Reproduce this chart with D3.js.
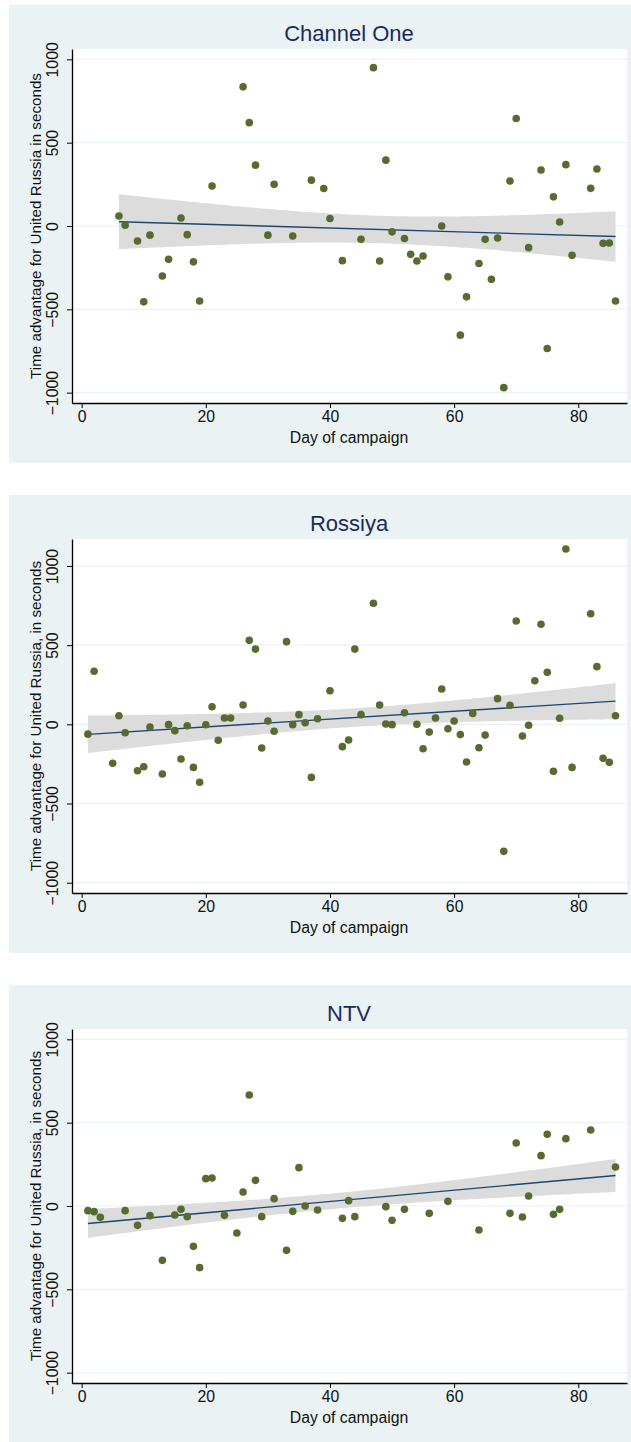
<!DOCTYPE html>
<html>
<head>
<meta charset="utf-8">
<script src="https://cdn.jsdelivr.net/npm/d3@7"></script>
<style>
  body { margin: 0; background: #fff; }
  svg text { font-family: "Liberation Sans", Arial, sans-serif; }
</style>
</head>
<body>
<div id="chart"></div>
<script>
// Data: day of campaign and time advantage (seconds)
const channelOneDays = [6, 7, 9, 10, 11, 13, 14, 16, 17, 18, 19, 21, 26, 27, 28, 30, 31, 34, 37, 39, 40, 42, 45, 47, 48, 49, 50, 52, 53, 54, 55, 58, 59, 61, 62, 64, 65, 66, 67, 68, 69, 70, 72, 74, 75, 76, 77, 78, 79, 82, 83, 84, 85, 86];
const channelOneSecs = [60, 5, -90, -455, -55, -300, -200, 48, -52, -215, -450, 240, 835, 620, 365, -55, 250, -60, 275, 225, 45, -208, -80, 950, -210, 395, -35, -75, -170, -210, -180, 0, -305, -655, -425, -225, -80, -320, -72, -970, 270, 645, -130, 336, -735, 175, 24, 368, -176, 226, 342, -104, -102, -450];

const rossiyaDays = [1, 2, 5, 6, 7, 9, 10, 11, 13, 14, 15, 16, 17, 18, 19, 20, 21, 22, 23, 24, 26, 27, 28, 29, 30, 31, 33, 34, 35, 36, 37, 38, 40, 42, 43, 44, 45, 47, 48, 49, 50, 52, 54, 55, 56, 57, 58, 59, 60, 61, 62, 63, 64, 65, 67, 68, 69, 70, 71, 72, 73, 74, 75, 76, 77, 78, 79, 82, 83, 84, 85, 86];
const rossiyaSecs = [-62, 335, -246, 54, -53, -293, -268, -17, -314, -2, -40, -219, -9, -272, -366, -3, 111, -101, 40, 40, 122, 530, 475, -150, 21, -44, 522, -2, 61, 10, -335, 35, 212, -141, -99, 475, 61, 764, 122, 2, -2, 73, 0, -154, -49, 40, 223, -28, 21, -65, -238, 69, -148, -68, 162, -802, 120, 652, -74, -6, 275, 632, 328, -297, 38, 1107, -272, 698, 364, -215, -240, 54];

const ntvDays = [1, 2, 3, 7, 9, 11, 13, 15, 16, 17, 18, 19, 20, 21, 23, 25, 26, 27, 28, 29, 31, 33, 34, 35, 36, 38, 42, 43, 44, 49, 50, 52, 56, 59, 64, 69, 70, 71, 72, 74, 75, 76, 77, 78, 82, 86];
const ntvSecs = [-28, -34, -68, -28, -116, -58, -326, -54, -20, -64, -242, -370, 164, 168, -56, -162, 84, 666, 154, -64, 44, -266, -32, 230, 0, -24, -74, 32, -64, -4, -86, -20, -44, 28, -144, -44, 378, -66, 60, 302, 430, -50, -20, 404, 456, 234];

const panelTitles = ["Channel One", "Rossiya", "NTV"];
const yTitles = [
    "Time advantage for United Russia in seconds",
    "Time advantage for United Russia, in seconds",
    "Time advantage for United Russia, in seconds"
];
const xTicks = [0, 20, 40, 60, 80];
const yTicks = [-1000, -500, 0, 500, 1000];

const panels = [
    { days: channelOneDays, secs: channelOneSecs, yDomain: [-1062, 1062] },
    { days: rossiyaDays, secs: rossiyaSecs, yDomain: [-1065, 1170] },
    { days: ntvDays, secs: ntvSecs, yDomain: [-1062, 1062] }
];

const width = 631, height = 1442;
const panelTop = [5, 495, 985];
const panelH = 458;
const plot = { left: 72, right: 627, top: 44, bottom: 398 };

const bgColor = "#eaf2f3";
const dotColor = "#556b2f";
const fitColor = "#1a476f";
const bandColor = "#dcdcdc";
const titleColor = "#1c2b5a";

const svg = d3.select("#chart").append("svg")
    .attr("width", width)
    .attr("height", height);

const xScale = d3.scaleLinear()
    .domain([-1.56, 87.85])
    .range([plot.left, plot.right]);

// OLS fit with a CI of the mean (90% level matches the band widths in the picture)
function linearFit(xs, ys) {
    const n = xs.length;
    const mx = d3.mean(xs), my = d3.mean(ys);
    let sxx = 0, sxy = 0;
    xs.forEach((x, i) => { sxx += (x - mx) ** 2; sxy += (x - mx) * (ys[i] - my); });
    const b = sxy / sxx, a = my - b * mx;
    let sse = 0;
    xs.forEach((x, i) => { sse += (ys[i] - a - b * x) ** 2; });
    const s = Math.sqrt(sse / (n - 2));
    const z = 1.645, df = n - 2;
    const t = z + (z ** 3 + z) / (4 * df);
    return {
        fit: x => a + b * x,
        half: x => t * s * Math.sqrt(1 / n + (x - mx) ** 2 / sxx)
    };
}

panels.forEach((p, k) => {
    const g = svg.append("g").attr("transform", `translate(0, ${panelTop[k]})`);

    g.append("rect")
        .attr("x", 9).attr("y", 0)
        .attr("width", width - 9).attr("height", panelH)
        .attr("fill", bgColor);

    g.append("rect")
        .attr("x", plot.left).attr("y", plot.top)
        .attr("width", plot.right - plot.left).attr("height", plot.bottom - plot.top)
        .attr("fill", "white");

    const yScale = d3.scaleLinear()
        .domain(p.yDomain)
        .range([plot.bottom, plot.top]);

    // gridlines
    g.selectAll(".grid")
        .data(yTicks)
        .enter().append("line")
        .attr("x1", plot.left).attr("x2", plot.right)
        .attr("y1", d => yScale(d)).attr("y2", d => yScale(d))
        .attr("stroke", bgColor)
        .attr("stroke-width", 1.2);

    // confidence band and fit line
    const lf = linearFit(p.days, p.secs);
    const x0 = d3.min(p.days), x1 = d3.max(p.days);
    const xs = d3.range(x0, x1, 0.5).concat([x1]);

    g.append("path")
        .datum(xs)
        .attr("d", d3.area()
            .x(d => xScale(d))
            .y0(d => yScale(lf.fit(d) - lf.half(d)))
            .y1(d => yScale(lf.fit(d) + lf.half(d))))
        .attr("fill", bandColor);

    g.append("path")
        .datum([x0, x1])
        .attr("d", d3.line().x(d => xScale(d)).y(d => yScale(lf.fit(d))))
        .attr("stroke", fitColor)
        .attr("stroke-width", 1.4)
        .attr("fill", "none");

    // points
    g.selectAll(".dot")
        .data(p.days.map((d, i) => [d, p.secs[i]]))
        .enter().append("circle")
        .attr("cx", d => xScale(d[0]))
        .attr("cy", d => yScale(d[1]))
        .attr("r", 3.8)
        .attr("fill", dotColor);

    // axes
    const xAxis = g.append("g")
        .attr("transform", `translate(0, ${plot.bottom})`)
        .call(d3.axisBottom(xScale).tickValues(xTicks).tickSize(5).tickPadding(3).tickSizeOuter(0));
    xAxis.select(".domain").attr("stroke", "#000").attr("stroke-width", 1.3);
    xAxis.selectAll(".tick line").attr("stroke", "#000");
    xAxis.selectAll("text")
        .attr("font-size", 15.8)
        .attr("fill", "#111")
        .attr("font-family", "Liberation Sans, Arial, sans-serif");

    const yAxis = g.append("g")
        .attr("transform", `translate(${plot.left}, 0)`)
        .call(d3.axisLeft(yScale).tickValues(yTicks).tickSize(5).tickSizeOuter(0)
            .tickFormat(d => d < 0 ? "\u2212" + Math.abs(d) : d));
    yAxis.select(".domain").attr("stroke", "#000").attr("stroke-width", 1.3);
    yAxis.selectAll(".tick line").attr("stroke", "#000");
    yAxis.selectAll("text")
        .attr("x", null).attr("dy", null)
        .attr("transform", "translate(-14, 0) rotate(-90)")
        .attr("text-anchor", "middle")
        .attr("font-size", 15.8)
        .attr("fill", "#111")
        .attr("font-family", "Liberation Sans, Arial, sans-serif");

    // titles
    g.append("text")
        .attr("x", 349).attr("y", 28)
        .attr("dy", "0.36em")
        .attr("text-anchor", "middle")
        .attr("font-size", 22)
        .attr("fill", titleColor)
        .text(panelTitles[k]);

    g.append("text")
        .attr("x", 349).attr("y", 432)
        .attr("dy", "0.36em")
        .attr("text-anchor", "middle")
        .attr("font-size", 15.8)
        .attr("fill", "#111")
        .text("Day of campaign");

    g.append("text")
        .attr("transform", `translate(36, ${(plot.top + plot.bottom) / 2}) rotate(-90)`)
        .attr("dy", "0.36em")
        .attr("text-anchor", "middle")
        .attr("font-size", 15.2)
        .attr("fill", "#111")
        .text(yTitles[k]);
});
</script>
</body>
</html>
